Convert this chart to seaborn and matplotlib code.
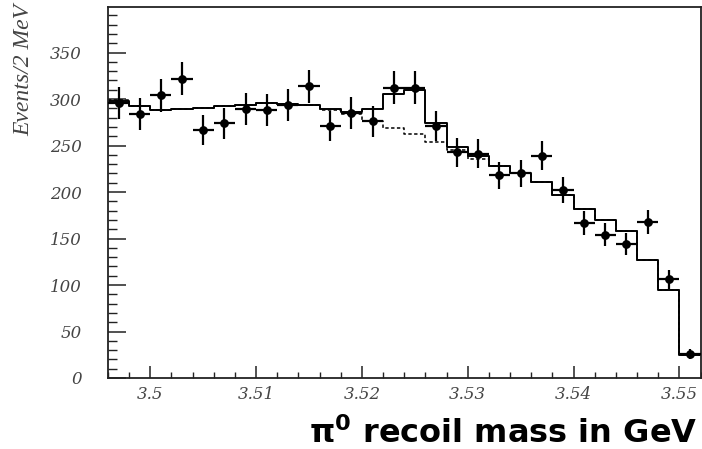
import numpy as np
import pandas as pd
import matplotlib
matplotlib.use("Agg")
import matplotlib.pyplot as plt
from matplotlib.ticker import MultipleLocator
import seaborn as sns

# Binning: 2 MeV bins over the recoil-mass window
bin_lo = 3.496
bin_width = 0.002
n_bins = 28

# Observed events per bin
counts = [296, 284, 304, 322, 267, 274, 289, 288, 294, 314,
          271, 285, 276, 312, 312, 271, 243, 241, 218, 220,
          239, 202, 167, 154, 144, 168, 106, 26]

# Total fit (signal + background)
fit_total = [297.5, 292.4, 288.1, 288.8, 289.9, 292.1, 293.8, 295.3, 294.5, 293.1,
             289.2, 285.6, 288.8, 305.3, 309.6, 273.8, 248.4, 238.7, 228.3, 220.1,
             210.8, 196.8, 181.5, 170.0, 158.5, 127.3, 94.8, 25.0]

# Background-only component
fit_background = [299.0, 292.4, 288.1, 288.8, 289.9, 292.1, 293.8, 295.3, 294.5, 293.1,
                  288.5, 283.8, 276.6, 269.1, 262.3, 253.4, 245.1, 235.2, 228.3, 220.1,
                  210.8, 196.8, 181.5, 170.0, 158.5, 127.3, 94.8, 25.0]

y_ticks = [0, 50, 100, 150, 200, 250, 300, 350]
x_ticks = [3.50, 3.51, 3.52, 3.53, 3.54, 3.55]
x_tick_labels = ["3.5", "3.51", "3.52", "3.53", "3.54", "3.55"]

edges = [bin_lo + bin_width * i for i in range(n_bins + 1)]
centers = [0.5 * (edges[i] + edges[i + 1]) for i in range(n_bins)]
df = pd.DataFrame({"mass": centers, "events": counts,
                   "total": fit_total, "bkg": fit_background})

sns.set_theme(style="white")
plt.rcParams["font.family"] = ["DejaVu Sans"]
plt.rcParams["mathtext.fontset"] = "dejavusans"

fig = plt.figure(figsize=(7.02, 4.49), dpi=100)
ax = fig.add_axes([108 / 702, 1 - 378 / 449, (700.5 - 108) / 702, (378 - 7) / 449])

sns.histplot(data=df, x="mass", weights="bkg", bins=edges, element="step",
             fill=False, color="black", linewidth=1.1, linestyle=(0, (2.2, 1.6)), ax=ax)
sns.histplot(data=df, x="mass", weights="total", bins=edges, element="step",
             fill=False, color="black", linewidth=1.4, ax=ax)

ax.errorbar(df["mass"], df["events"], yerr=np.sqrt(df["events"]), xerr=bin_width / 2,
            fmt="none", ecolor="black", elinewidth=1.6, capsize=0, zorder=4)
sns.scatterplot(data=df, x="mass", y="events", color="black", s=40,
                edgecolor="black", linewidth=0, zorder=5, ax=ax)

ax.set_xlim(edges[0], edges[-1])
ax.set_ylim(0, 399)
ax.set_xlabel("")
ax.set_ylabel("")

ax.set_yticks(y_ticks)
ax.yaxis.set_minor_locator(MultipleLocator(10))
ax.set_xticks(x_ticks)
ax.set_xticklabels(x_tick_labels)
ax.xaxis.set_minor_locator(MultipleLocator(0.002))

for lab in ax.get_yticklabels() + ax.get_xticklabels():
    lab.set_fontfamily("DejaVu Serif")
    lab.set_fontstyle("italic")
    lab.set_fontsize(12)
    lab.set_color("#444444")

ax.tick_params(axis="y", which="major", direction="in", length=13, width=1.1,
               color="#222222", pad=19, left=True, right=False)
ax.tick_params(axis="y", which="minor", direction="in", length=6.5, width=1.0,
               color="#222222", left=True, right=False)
ax.tick_params(axis="x", which="major", direction="in", length=8.5, width=1.1,
               color="#222222", pad=6, bottom=True, top=False)
ax.tick_params(axis="x", which="minor", direction="in", length=4, width=1.0,
               color="#222222", bottom=True, top=False)

for sp in ax.spines.values():
    sp.set_color("#222222")
    sp.set_linewidth(1.3)

fig.text(24 / 702, 1 - 4 / 449, "Events/2 MeV", rotation=90, ha="center", va="top",
         fontfamily="Liberation Serif", fontstyle="italic", fontsize=17, color="#444444")

fig.text(697 / 702, 1 - 443 / 449, r"π$^{\mathbf{0}}$ recoil mass in GeV",
         ha="right", va="baseline",
         fontfamily="DejaVu Sans", fontweight="bold", fontsize=23, color="black")

fig.savefig("out.png", dpi=100)
